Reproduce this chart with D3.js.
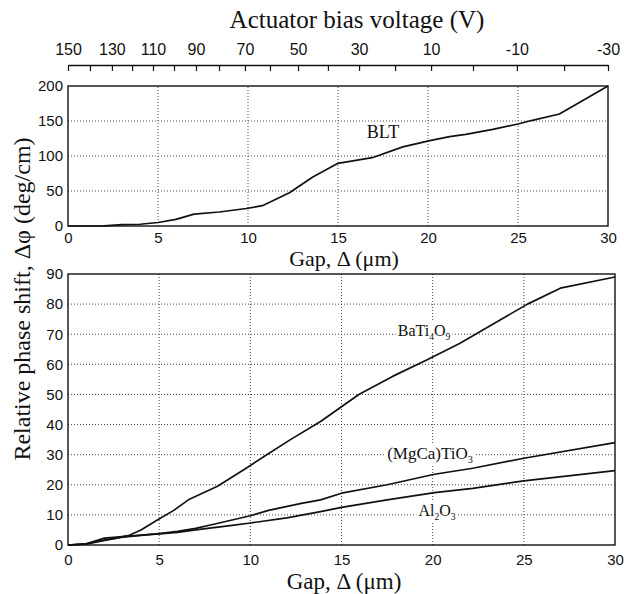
<!DOCTYPE html>
<html>
<head>
<meta charset="utf-8">
<script src="https://cdn.jsdelivr.net/npm/d3@7"></script>
<style>
  body { margin: 0; background: #fff; }
  svg { display: block; }
</style>
</head>
<body>
<svg width="624" height="594"></svg>
<script>
var svg = d3.select('svg');
var SANS = '"Liberation Sans", Arial, Helvetica, sans-serif';
var SERIF = '"Liberation Serif", "Times New Roman", Times, serif';

// gap axis (shared by both panels)
var gapTicks = [0, 5, 10, 15, 20, 25, 30];

// top axis: actuator bias voltage, one tick every 10 V, with the gap each tick sits at
var voltTicks = [150, 140, 130, 120, 110, 100, 90, 80, 70, 60, 50, 40, 30, 20, 10, 0, -10, -20, -30];
var voltTickGap = [0, 1.22, 2.44, 3.56, 4.72, 5.89, 7.11, 8.39, 9.83, 11.22, 12.78, 14.44, 16.17, 18.17, 20.17, 22.5, 24.94, 27.56, 30];
var voltLabels = [150, 130, 110, 90, 70, 50, 30, 10, -10, -30];

// top panel: BLT
var bltTicks = [0, 50, 100, 150, 200];
var bltGap   = [0, 2, 3, 4, 5, 6, 7, 8.4, 9.9, 10.8, 12.3, 13.6, 15, 16.9, 18.6, 20.1, 21.2, 22.1, 23.6, 25, 25.8, 27.3, 30];
var bltShift = [0, 0.3, 2, 2.5, 5, 9.5, 17, 20, 25, 29, 47.6, 70, 89.5, 97.6, 113, 122, 127.6, 131, 138, 145.7, 151, 160, 200];

// bottom panel
var phaseTicks = [0, 10, 20, 30, 40, 50, 60, 70, 80, 90];
var batiGap   = [0, 1, 1.5, 2.5, 3.3, 4, 4.9, 5.8, 6.6, 8.2, 9.9, 10.9, 12.2, 13.85, 15.95, 17.8, 19.7, 21.5, 23.2, 25.2, 27, 30];
var batiShift = [0, 0.4, 1.1, 2.2, 3.1, 5, 8.3, 11.5, 15, 19.5, 26, 30, 35, 41, 50, 56, 61.5, 67, 73, 80, 85.3, 89];
var mgcaGap   = [0, 1, 2, 3, 4, 5, 6, 7, 8, 9, 10, 11, 12.8, 13.85, 15, 17.5, 20.1, 22.2, 25, 30];
var mgcaShift = [0, 0.3, 1.5, 2.6, 3.2, 3.8, 4.5, 5.5, 6.9, 8.3, 9.7, 11.5, 13.8, 15, 17.2, 20, 23.5, 25.5, 28.8, 34];
var aloGap    = [0, 1, 2, 3, 4, 5, 6, 7, 8, 9, 10, 12, 13.85, 15, 17.5, 20.1, 22.2, 25, 30];
var aloShift  = [0, 0.4, 2.3, 2.8, 3.3, 3.7, 4.2, 5, 5.8, 6.5, 7.3, 9, 11.1, 12.5, 15, 17.4, 18.8, 21.3, 24.7];

var xTop = d3.scaleLinear().domain([0, 30]).range([68, 608]);
var yTop = d3.scaleLinear().domain([0, 200]).range([226, 86]);
var xBot = d3.scaleLinear().domain([0, 30]).range([68, 615]);
var yBot = d3.scaleLinear().domain([0, 90]).range([545, 274]);

// voltage -> pixel, piecewise through the tick positions
var xVolt = d3.scaleLinear()
  .domain(voltTicks)
  .range(voltTickGap.map(function(g) { return xTop(g); }));

// draws one panel: grid, frame, tick labels
function drawPanel(x, y, yTicks, xPad) {
  var x0 = x.range()[0], x1 = x.range()[1];
  var y0 = y.range()[0], y1 = y.range()[1];

  var grid = svg.append('g')
      .attr('stroke', '#333')
      .attr('stroke-width', 0.9)
      .attr('stroke-dasharray', '1,2');
  grid.selectAll('.vx')
    .data(gapTicks.slice(1, -1))
    .join('line')
      .attr('x1', d => x(d)).attr('x2', d => x(d))
      .attr('y1', y0).attr('y2', y1);
  grid.selectAll('.hy')
    .data(yTicks.slice(1, -1))
    .join('line')
      .attr('x1', x0).attr('x2', x1)
      .attr('y1', d => y(d)).attr('y2', d => y(d));

  svg.append('rect')
      .attr('x', x0).attr('y', y1)
      .attr('width', x1 - x0).attr('height', y0 - y1)
      .attr('fill', 'none')
      .attr('stroke', '#111')
      .attr('stroke-width', 1.4);

  var xAxis = svg.append('g')
      .attr('transform', 'translate(0,' + y0 + ')')
      .call(d3.axisBottom(x).tickValues(gapTicks).tickSize(0).tickPadding(xPad));
  xAxis.select('.domain').remove();
  xAxis.selectAll('text').style('font-family', SANS).style('font-size', '15px').attr('fill', '#111');

  var yAxis = svg.append('g')
      .attr('transform', 'translate(' + x0 + ',0)')
      .call(d3.axisLeft(y).tickValues(yTicks).tickSize(0).tickPadding(5));
  yAxis.select('.domain').remove();
  yAxis.selectAll('text').style('font-family', SANS).style('font-size', '15px').attr('fill', '#111');
}

drawPanel(xTop, yTop, bltTicks, 6);
drawPanel(xBot, yBot, phaseTicks, 9);

// top voltage axis, ticks hang down from the line, labels above
var vAxis = svg.append('g')
    .attr('transform', 'translate(0,65)')
    .call(d3.axisTop(xVolt)
      .tickValues(voltTicks)
      .tickSizeInner(-6)
      .tickSizeOuter(0)
      .tickPadding(10)
      .tickFormat(d => voltLabels.indexOf(d) >= 0 ? String(d) : ''));
vAxis.select('.domain').attr('stroke', '#111').attr('stroke-width', 1.4);
vAxis.selectAll('line').attr('stroke', '#111').attr('stroke-width', 1.2);
vAxis.selectAll('text').style('font-family', SANS).style('font-size', '16px').attr('fill', '#111');

// curves
var curves = [
  { x: xTop, y: yTop, gap: bltGap, shift: bltShift },
  { x: xBot, y: yBot, gap: batiGap, shift: batiShift },
  { x: xBot, y: yBot, gap: mgcaGap, shift: mgcaShift },
  { x: xBot, y: yBot, gap: aloGap, shift: aloShift }
];
curves.forEach(function(c) {
  var line = d3.line()
    .x(d => c.x(d[0]))
    .y(d => c.y(d[1]));
  svg.append('path')
      .datum(d3.zip(c.gap, c.shift))
      .attr('d', line)
      .attr('fill', 'none')
      .attr('stroke', '#111')
      .attr('stroke-width', 1.7)
      .attr('stroke-linejoin', 'round');
});

// curve labels, parts are [text, isSubscript]
function curveLabel(parts, cx, by, size, whiteBg) {
  var g = svg.append('g');
  var t = g.append('text')
      .attr('x', cx).attr('y', by)
      .attr('text-anchor', 'middle')
      .attr('fill', '#111')
      .style('font-family', SERIF)
      .style('font-size', size + 'px');
  var wasSub = false;
  parts.forEach(function(p) {
    var dy = 0;
    if (p[1] && !wasSub) dy = size * 0.22;
    if (!p[1] && wasSub) dy = -size * 0.22;
    t.append('tspan')
        .attr('dy', dy)
        .style('font-size', p[1] ? (size * 0.6) + 'px' : size + 'px')
        .text(p[0]);
    wasSub = p[1];
  });
  if (whiteBg) {
    var b = t.node().getBBox();
    g.insert('rect', 'text')
        .attr('x', b.x - 2).attr('y', b.y)
        .attr('width', b.width + 4).attr('height', b.height)
        .attr('fill', '#fff');
  }
}

curveLabel([['BLT', false]], 383, 138, 18, false);
curveLabel([['BaTi', false], ['4', true], ['O', false], ['9', true]], 424, 336, 16, true);
curveLabel([['(MgCa)TiO', false], ['3', true]], 430, 459, 17, true);
curveLabel([['Al', false], ['2', true], ['O', false], ['3', true]], 437, 516, 16, true);

// titles
function title(txt, x, y, size, rot) {
  svg.append('text')
      .attr('transform', 'translate(' + x + ',' + y + ')' + (rot ? 'rotate(270)' : ''))
      .attr('text-anchor', 'middle')
      .attr('fill', '#111')
      .style('font-family', SERIF)
      .style('font-size', size + 'px')
      .text(txt);
}

title('Actuator bias voltage (V)', 357, 28, 25, false);
title('Gap, \u0394 (\u03bcm)', 344, 266, 22, false);
title('Gap, \u0394 (\u03bcm)', 344, 589, 23, false);
title('Relative phase shift, \u0394\u03c6 (deg/cm)', 30, 299, 24, true);
</script>
</body>
</html>
